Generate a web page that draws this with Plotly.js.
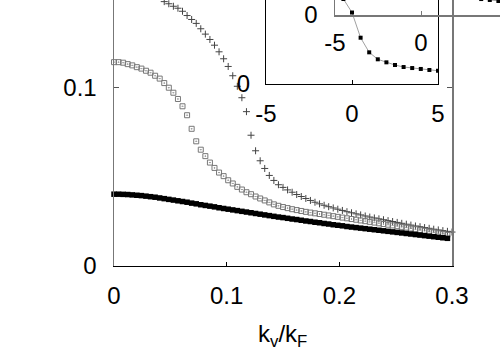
<!DOCTYPE html>
<html>
<head>
<meta charset="utf-8">
<script src="https://cdn.plot.ly/plotly-3.0.1.min.js"></script>
<style>
  html, body { margin: 0; padding: 0; background: #fff; }
  #plot { width: 500px; height: 350px; }
</style>
</head>
<body>
<div id="plot"></div>
<script>
// main panel, k_v/k_F sampled every 0.3/74
var kStep = 0.3 / 74;

// filled squares
var filledY = [0.0402,0.0402,0.0401,0.0400,0.0398,0.0396,0.0394,0.0391,0.0388,0.0385,
  0.0381,0.0377,0.0373,0.0369,0.0365,0.0361,0.0357,0.0352,0.0348,0.0343,
  0.0339,0.0335,0.0331,0.0326,0.0322,0.0318,0.0314,0.0310,0.0306,0.0302,
  0.0298,0.0294,0.0290,0.0286,0.0282,0.0278,0.0274,0.0271,0.0267,0.0263,
  0.0260,0.0256,0.0252,0.0249,0.0245,0.0242,0.0238,0.0235,0.0231,0.0228,
  0.0225,0.0221,0.0218,0.0215,0.0212,0.0209,0.0206,0.0203,0.0200,0.0197,
  0.0194,0.0191,0.0188,0.0185,0.0182,0.0179,0.0176,0.0173,0.0170,0.0167,
  0.0164,0.0161,0.0158,0.0155,0.0152];

// open squares
var openY = [0.1141,0.1141,0.1138,0.1130,0.1123,0.1113,0.1105,0.1093,0.1082,0.1065,
  0.1049,0.1024,0.0998,0.0970,0.0935,0.0894,0.0844,0.0768,0.0698,0.0651,
  0.0615,0.0579,0.0549,0.0523,0.0503,0.0480,0.0462,0.0443,0.0428,0.0413,
  0.0402,0.0389,0.0378,0.0367,0.0356,0.0345,0.0337,0.0330,0.0324,0.0318,
  0.0313,0.0308,0.0303,0.0299,0.0295,0.0291,0.0287,0.0283,0.0279,0.0275,
  0.0271,0.0267,0.0263,0.0259,0.0255,0.0251,0.0247,0.0243,0.0239,0.0235,
  0.0231,0.0227,0.0223,0.0219,0.0215,0.0210,0.0206,0.0201,0.0197,0.0192,
  0.0188,0.0183,0.0179,0.0174,0.0170];

// crosses (first ones are above the cut top edge)
var plusFirst = 11;
var plusY = [0.1480,0.1468,0.1454,0.1443,0.1426,0.1402,0.1380,0.1358,0.1328,
  0.1298,0.1268,0.1236,0.1199,0.1160,0.1117,0.1065,0.1006,0.0942,0.0864,
  0.0732,0.0645,0.0589,0.0546,0.0507,0.0479,0.0455,0.0440,0.0426,0.0413,
  0.0400,0.0389,0.0378,0.0367,0.0357,0.0348,0.0340,0.0332,0.0325,0.0318,
  0.0311,0.0304,0.0298,0.0292,0.0286,0.0280,0.0274,0.0269,0.0264,0.0259,
  0.0254,0.0249,0.0244,0.0239,0.0234,0.0229,0.0224,0.0220,0.0215,0.0211,
  0.0206,0.0202,0.0198,0.0194,0.0190];

var mainTicks = [0, 0.1, 0.2, 0.3];
var mainTickText = ['0', '0.1', '0.2', '0.3'];

// inset curve (drawn twice, second copy offset)
var insetX = [-0.5, 0, 0.5, 1, 1.5, 2, 2.5, 3, 3.5, 4, 4.5, 5];
var insetY = [1.012, 0.851, 0.551, 0.377, 0.294, 0.258, 0.226, 0.202, 0.190, 0.179, 0.167, 0.158];
var insetTicks = [-5, 0, 5];
var insetTickText = ['-5', '0', '5'];

var font = {family: 'Liberation Sans, Arial, sans-serif', size: 24, color: '#000'};

var plus = {
  x0: plusFirst * kStep, dx: kStep, y: plusY,
  mode: 'markers', type: 'scatter', cliponaxis: false,
  marker: {symbol: 'cross-thin', size: 5, line: {color: '#444', width: 1}}
};
var open = {
  x0: 0, dx: kStep, y: openY,
  mode: 'markers', type: 'scatter', cliponaxis: false,
  marker: {symbol: 'square-open-dot', size: 5, color: '#777', line: {color: '#777', width: 1}}
};
var filled = {
  x0: 0, dx: kStep, y: filledY,
  mode: 'markers', type: 'scatter', cliponaxis: false,
  marker: {symbol: 'square', size: 5.5, color: '#000'}
};
var inset1 = {
  x: insetX, y: insetY, xaxis: 'x2', yaxis: 'y2',
  mode: 'lines+markers', type: 'scatter',
  line: {color: '#888', width: 0.8},
  marker: {symbol: 'square', size: 4, color: '#000'}
};
var inset2 = {
  x: insetX, y: insetY, xaxis: 'x3', yaxis: 'y3',
  mode: 'lines+markers', type: 'scatter',
  line: {color: '#888', width: 0.8},
  marker: {symbol: 'square', size: 4, color: '#000'}
};

var layout = {
  width: 500, height: 350,
  margin: {l: 0, r: 0, t: 0, b: 0},
  paper_bgcolor: '#fff', plot_bgcolor: 'rgba(0,0,0,0)',
  showlegend: false,
  font: font,
  xaxis: {
    domain: [0.228, 0.904], range: [0, 0.3],
    tickvals: mainTicks, ticktext: mainTickText,
    ticks: 'inside', ticklen: 4, tickcolor: '#000', ticklabelstandoff: 8,
    showline: true, linecolor: '#000', linewidth: 1.2, mirror: false,
    showgrid: false, zeroline: false, tickfont: font
  },
  yaxis: {
    domain: [0.24, 1], range: [0, 0.1489],
    tickvals: [0, 0.1], ticktext: ['0', '0.1'],
    ticks: 'inside', ticklen: 5, tickcolor: '#555', ticklabelstandoff: 11,
    showline: true, linecolor: '#777', linewidth: 1.5, mirror: 'ticks',
    showgrid: false, zeroline: false, tickfont: font
  },
  xaxis2: {
    domain: [0.532, 0.876], range: [-5, 5], anchor: 'y2',
    tickvals: insetTicks, ticktext: insetTickText,
    ticks: 'inside', ticklen: 4, tickcolor: '#000', ticklabelstandoff: 8,
    showline: true, linecolor: '#000', linewidth: 1.2, mirror: false,
    showgrid: false, zeroline: false, tickfont: font
  },
  yaxis2: {
    domain: [0.76, 1], range: [0, 1], anchor: 'x2',
    tickvals: [0], ticktext: ['0'],
    ticks: 'inside', ticklen: 4, tickcolor: '#000', ticklabelstandoff: 10,
    showline: true, linecolor: '#000', linewidth: 1.2, mirror: true,
    showgrid: false, zeroline: false, tickfont: font
  },
  xaxis3: {
    domain: [0.67, 1], range: [-5, 4.593], anchor: 'y3',
    tickvals: insetTicks, ticktext: insetTickText,
    ticks: 'inside', ticklen: 4, tickcolor: '#777', ticklabelstandoff: 6,
    showline: true, linecolor: '#777', linewidth: 1.5, mirror: false,
    showgrid: false, zeroline: false, tickfont: font
  },
  yaxis3: {
    domain: [0.957, 1], range: [0, 0.1786], anchor: 'x3',
    tickvals: [0], ticktext: ['0'],
    ticks: 'inside', ticklen: 4, tickcolor: '#777', ticklabelstandoff: 11,
    showline: true, linecolor: '#777', linewidth: 1.5, mirror: false,
    showgrid: false, zeroline: false, tickfont: font
  },
  annotations: [{
    text: 'k<sub>v</sub>/k<sub>F</sub>', xref: 'paper', yref: 'paper',
    x: 0.564, y: (350 - 318) / 350, xanchor: 'center', yanchor: 'top',
    showarrow: false, font: font
  }]
};

Plotly.newPlot('plot', [plus, open, filled, inset1, inset2], layout, {staticPlot: true});
</script>
</body>
</html>
